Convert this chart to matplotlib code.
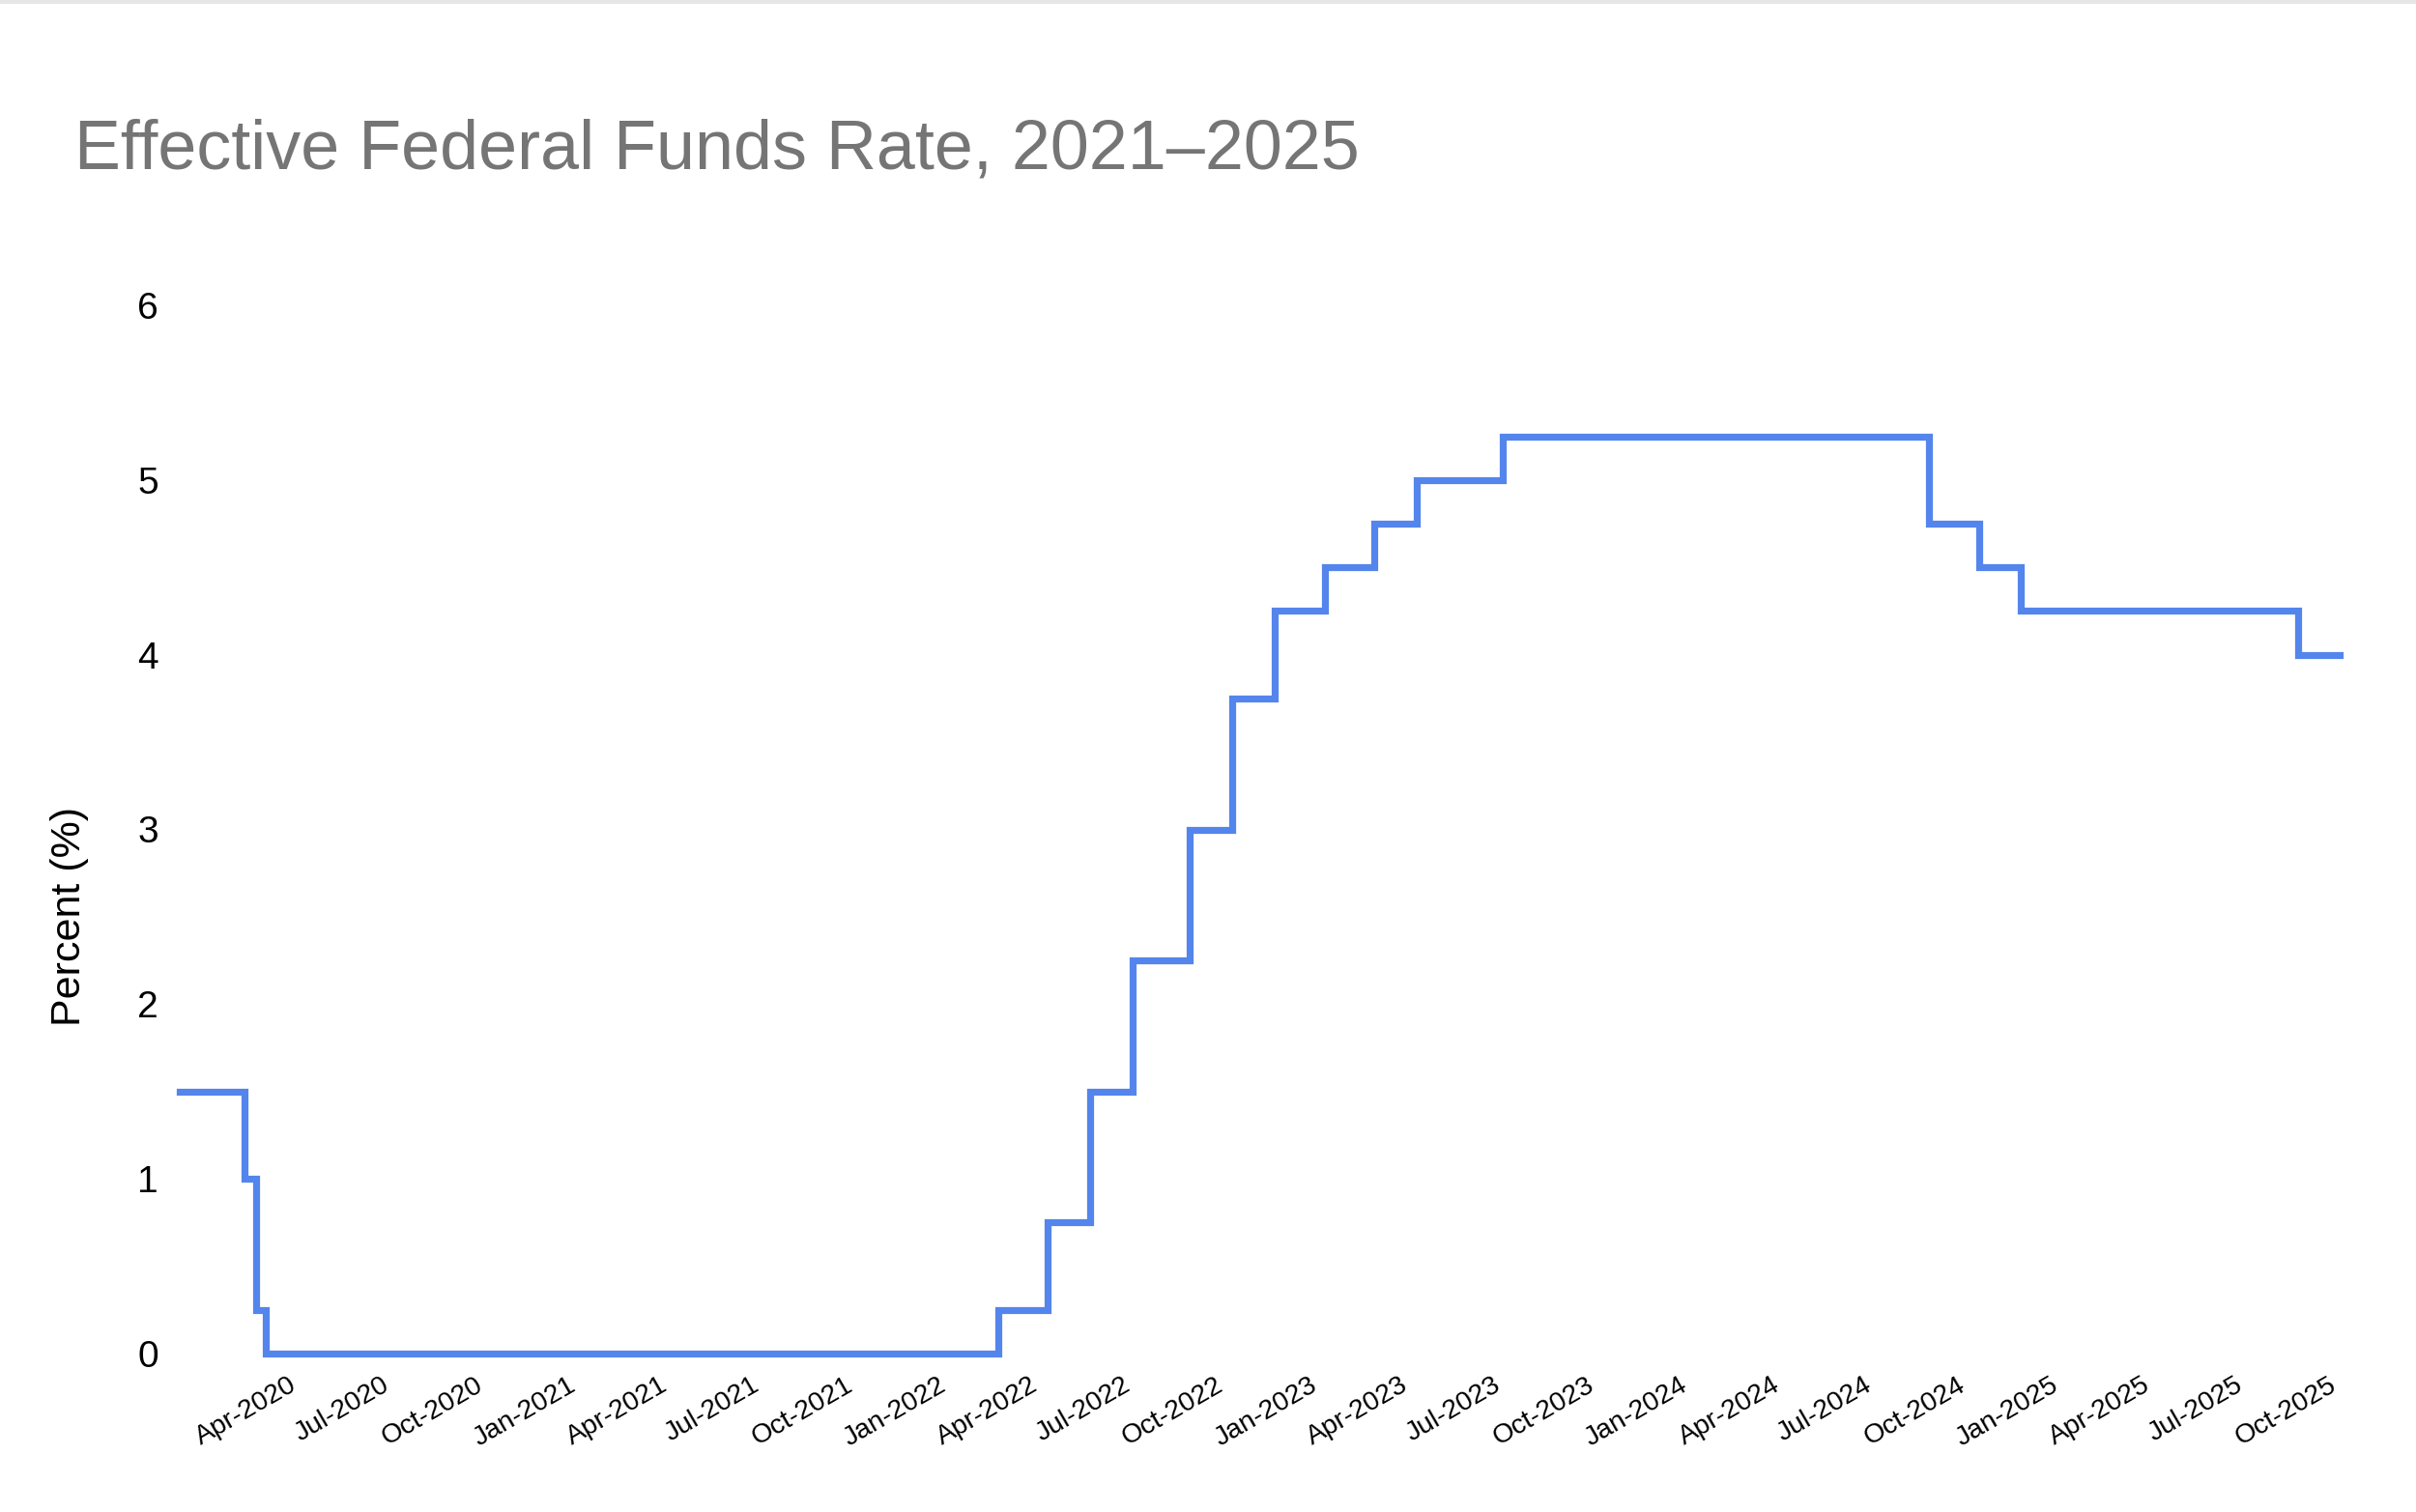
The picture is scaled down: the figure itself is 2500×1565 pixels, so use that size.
import matplotlib
matplotlib.use("Agg")
import matplotlib.pyplot as plt
import matplotlib.dates as mdates
import matplotlib.transforms as mtransforms
from matplotlib.patches import Rectangle
import pandas as pd

# dates where the rate changes, and the level from that date on
CHANGE_DATES = [
    "2020-01-01", "2020-03-05", "2020-03-16", "2020-03-26",
    "2022-03-17", "2022-05-05", "2022-06-16", "2022-07-28",
    "2022-09-22", "2022-11-03", "2022-12-15", "2023-02-02",
    "2023-03-23", "2023-05-04", "2023-07-27", "2024-09-19",
    "2024-11-08", "2024-12-19", "2025-09-18", "2025-10-29",
]
RATES = [
    1.5, 1.0, 0.25, 0.0,
    0.25, 0.75, 1.5, 2.25,
    3.0, 3.75, 4.25, 4.5,
    4.75, 5.0, 5.25, 4.75,
    4.5, 4.25, 4.0, 4.0,
]
Y_TICKS = [0, 1, 2, 3, 4, 5, 6]
TITLE = "Effective Federal Funds Rate, 2021\u20132025"
Y_LABEL = "Percent (%)"
LINE_COLOR = "#5485EC"

plt.rcParams["font.family"] = ["Liberation Sans", "DejaVu Sans"]

dates = pd.to_datetime(CHANGE_DATES)

fig = plt.figure(figsize=(12.5, 7.825), dpi=200)
W, H = 2500, 1565
ax = fig.add_axes([186 / W, 1 - 1401 / H, (2421 - 186) / W, (1401 - 316) / H])

ax.plot(dates, RATES, drawstyle="steps-post", color=LINE_COLOR, lw=2.6,
        solid_joinstyle="miter", clip_on=False)

ax.set_xlim(dates[0], dates[-1])
ax.set_ylim(0, 6)
ax.set_yticks(Y_TICKS)
ax.tick_params(axis="y", length=0, pad=8, labelsize=14)

ax.xaxis.set_major_locator(mdates.MonthLocator(bymonth=[1, 4, 7, 10], bymonthday=1))
ax.xaxis.set_major_formatter(mdates.DateFormatter("%b-%Y"))
ax.tick_params(axis="x", length=0, pad=7, labelsize=10.2)

# drop the Jan-2020 tick sitting on the left edge
ticks = [t for t in ax.get_xticks() if t > mdates.date2num(dates[0]) + 5]
ax.set_xticks(ticks)

shift = mtransforms.ScaledTranslation(30 / 200, 0, fig.dpi_scale_trans)
for lab in ax.get_xticklabels():
    lab.set_rotation(30)
    lab.set_ha("right")
    lab.set_transform(lab.get_transform() + shift)

for s in ax.spines.values():
    s.set_visible(False)

ax.set_ylabel(Y_LABEL, fontsize=15.5)
ax.yaxis.set_label_coords(92 / W, 1 - 948 / H, transform=fig.transFigure)

fig.text(77 / W, 1 - 175 / H, TITLE, fontsize=25.9, color="#757575",
         ha="left", va="baseline")

# thin grey strip along the top edge
fig.add_artist(Rectangle((0, 1 - 4 / H), 1, 4 / H, transform=fig.transFigure,
                         color="#e6e6e6", lw=0))

fig.savefig("out.png", dpi=200, facecolor="white")
